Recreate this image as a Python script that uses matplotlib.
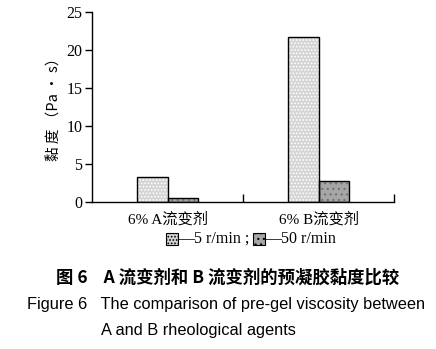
import matplotlib.pyplot as plt
import numpy as np

plt.rcParams['font.family'] = ['Liberation Serif', 'Noto Sans CJK SC']
plt.rcParams['hatch.linewidth'] = 0.8

groups = ['6% A流变剂', '6% B流变剂']
speeds = ['5 r/min', '50 r/min']
v_5 = [3.25, 21.7]
v_50 = [0.5, 2.7]
yticks = [0, 5, 10, 15, 20, 25]

fig = plt.figure(figsize=(4.36, 3.49), dpi=100)
ax = fig.add_axes([92/436, 1 - 202/349, 302/436, 190/349])

x = np.arange(len(groups))
w = 0.2
# fill with dotted pattern, then outline on top
ax.bar(x - w/2, v_5, w, color='#d4d4d4', hatch='.....', edgecolor='white', linewidth=0)
ax.bar(x + w/2, v_50, w, color='#a6a6a6', hatch='...', edgecolor='#707070', linewidth=0)
ax.bar(x - w/2, v_5, w, fill=False, edgecolor='black', linewidth=1.0)
ax.bar(x + w/2, v_50, w, fill=False, edgecolor='black', linewidth=1.0)

ax.set_xlim(-0.5, 1.5)
ax.set_ylim(0, 25)
ax.set_yticks(yticks)
ax.set_xticks([0.5, 1.5])
ax.set_xticklabels([])
ax.tick_params(axis='x', direction='in', length=6, width=1)
ax.tick_params(axis='y', direction='out', length=5, width=1, labelsize=11.5, pad=2)
for s in ['top', 'right']:
    ax.spines[s].set_visible(False)
for s in ['left', 'bottom']:
    ax.spines[s].set_linewidth(1.0)

for i, g in enumerate(groups):
    ax.text(i, -1.3, g, ha='center', va='top', fontsize=11)

fig.text(55/436, 1 - 106/349, '黏 度 （Pa · s）', rotation=90, ha='center', va='center',
         fontsize=10.5, family=['Noto Sans CJK SC'])

# legend row
ly = 1 - 239/349
fig.patches.append(plt.Rectangle((166/436, ly - 6/349), 12/436, 12/349, transform=fig.transFigure,
                                 facecolor='#d4d4d4', hatch='.....', edgecolor='black', linewidth=0.8))
fig.text(178/436, ly, '—' + speeds[0] + ' ;', ha='left', va='center', fontsize=11.5)
fig.patches.append(plt.Rectangle((253/436, ly - 6/349), 12/436, 12/349, transform=fig.transFigure,
                                 facecolor='#a6a6a6', hatch='...', edgecolor='black', linewidth=0.8))
fig.text(265/436, ly, '—' + speeds[1], ha='left', va='center', fontsize=11.5)

fig.text(228/436, 1 - 278/349, '图 6    A 流变剂和 B 流变剂的预凝胶黏度比较', ha='center', va='center',
         fontsize=12.5, fontweight='bold', family=['Noto Sans CJK SC'])
fig.text(27/436, 1 - 305/349, 'Figure 6   The comparison of pre-gel viscosity between', ha='left',
         va='center', fontsize=11.8, family=['Liberation Sans'])
fig.text(101/436, 1 - 331/349, 'A and B rheological agents', ha='left', va='center',
         fontsize=11.8, family=['Liberation Sans'])

fig.savefig('out.png', dpi=100)
